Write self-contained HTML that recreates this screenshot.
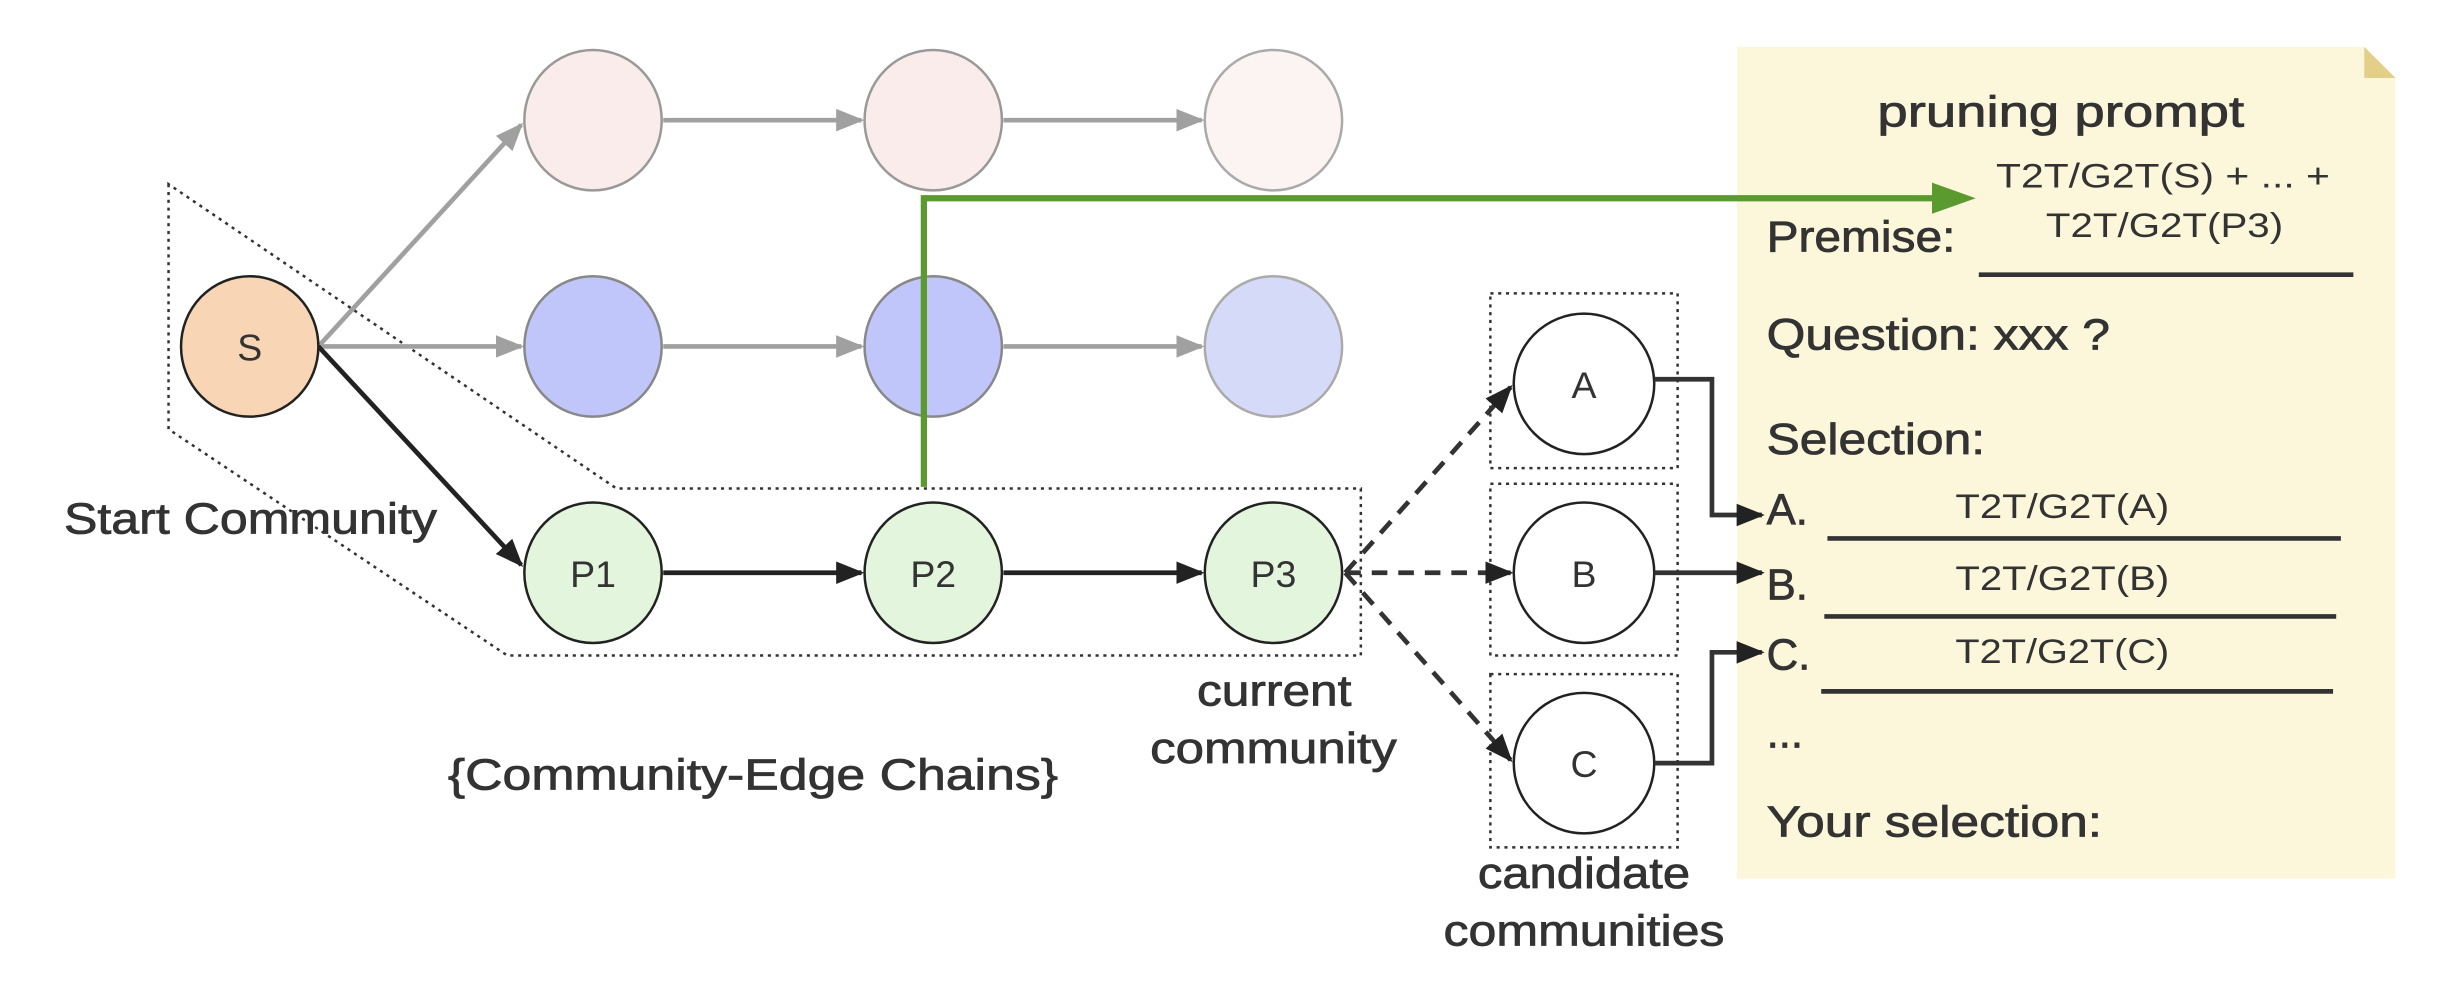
<!DOCTYPE html>
<html><head><meta charset="utf-8"><style>
html,body{margin:0;padding:0;background:#fff;}
svg{display:block;}
text{font-family:"Liberation Sans","DejaVu Sans",sans-serif;fill:#333;}
.b{stroke:#333;stroke-width:0.5;}
</style></head><body>
<svg width="2447" height="981" viewBox="0 0 1568 628.6" xmlns="http://www.w3.org/2000/svg">
<defs>
<marker id="ag" viewBox="0 0 10 10" refX="9" refY="5" markerWidth="6" markerHeight="6" orient="auto" markerUnits="strokeWidth"><path d="M0,1 L10,5 L0,9 Z" fill="#a0a0a0"/></marker>
<marker id="ab" viewBox="0 0 10 10" refX="9" refY="5" markerWidth="6" markerHeight="6" orient="auto" markerUnits="strokeWidth"><path d="M0,1 L10,5 L0,9 Z" fill="#222"/></marker>
</defs>
<path d="M1113,30 L1515,30 L1535,50 L1535,563 L1113,563 Z" fill="#fcf7da"/>
<path d="M1515,30 L1535,50 L1515,50 Z" fill="#e4cf8a"/>
<path d="M108,118 L108,275 L325,420 L872,420 L872,313 L395,313 Z" fill="none" stroke="#333" stroke-width="1.6" stroke-dasharray="2,3"/>
<rect x="955" y="188" width="120" height="112" fill="none" stroke="#333" stroke-width="1.6" stroke-dasharray="2,3"/>
<rect x="955" y="310" width="120" height="110" fill="none" stroke="#333" stroke-width="1.6" stroke-dasharray="2,3"/>
<rect x="955" y="432" width="120" height="111" fill="none" stroke="#333" stroke-width="1.6" stroke-dasharray="2,3"/>
<g stroke="#a0a0a0" stroke-width="3" fill="none" marker-end="url(#ag)">
<line x1="204" y1="222" x2="334" y2="80"/>
<line x1="204" y1="222" x2="334" y2="222"/>
<line x1="425" y1="77" x2="552" y2="77"/>
<line x1="643" y1="77" x2="770" y2="77"/>
<line x1="425" y1="222" x2="552" y2="222"/>
<line x1="643" y1="222" x2="770" y2="222"/>
</g>
<g stroke="#222" stroke-width="3" fill="none" marker-end="url(#ab)">
<line x1="204" y1="222" x2="334" y2="362"/>
<line x1="425" y1="367" x2="552" y2="367"/>
<line x1="643" y1="367" x2="770" y2="367"/>
</g>
<g stroke-width="1.6">
<ellipse cx="380" cy="77" rx="44" ry="45" fill="#fbecec" stroke="#999"/>
<ellipse cx="598" cy="77" rx="44" ry="45" fill="#fbecec" stroke="#999"/>
<ellipse cx="816" cy="77" rx="44" ry="45" fill="#fcf3f3" stroke="#aaa"/>
<ellipse cx="380" cy="222" rx="44" ry="45" fill="#c0c6fa" stroke="#888"/>
<ellipse cx="598" cy="222" rx="44" ry="45" fill="#c0c6fa" stroke="#888"/>
<ellipse cx="816" cy="222" rx="44" ry="45" fill="#d6daf9" stroke="#aaa"/>
<ellipse cx="160" cy="222" rx="44" ry="45" fill="#f8d5b5" stroke="#222"/>
<ellipse cx="380" cy="367" rx="44" ry="45" fill="#e3f5dc" stroke="#222"/>
<ellipse cx="598" cy="367" rx="44" ry="45" fill="#e3f5dc" stroke="#222"/>
<ellipse cx="816" cy="367" rx="44" ry="45" fill="#e3f5dc" stroke="#222"/>
<ellipse cx="1015" cy="246" rx="45" ry="45" fill="#fff" stroke="#222"/>
<ellipse cx="1015" cy="367" rx="45" ry="45" fill="#fff" stroke="#222"/>
<ellipse cx="1015" cy="489" rx="45" ry="45" fill="#fff" stroke="#222"/>
</g>
<path d="M592,312 L592,127 L1242,127" fill="none" stroke="#5a9a2f" stroke-width="4"/>
<path d="M1238,117 L1266,127 L1238,137 Z" fill="#5a9a2f"/>
<g stroke="#333" stroke-width="3" fill="none" stroke-dasharray="10,7" marker-end="url(#ab)">
<line x1="862" y1="367" x2="968" y2="248"/>
<line x1="862" y1="367" x2="968" y2="367"/>
<line x1="862" y1="367" x2="968" y2="487"/>
</g>
<g stroke="#333" stroke-width="3" fill="none" marker-end="url(#ab)">
<path d="M1060,243 L1097,243 L1097,330 L1129,330"/>
<line x1="1060" y1="367" x2="1129" y2="367"/>
<path d="M1060,489 L1097,489 L1097,418 L1129,418"/>
</g>
<g font-size="24" text-anchor="middle">
<text x="160" y="231">S</text>
<text x="380" y="376">P1</text>
<text x="598" y="376">P2</text>
<text x="816" y="376">P3</text>
<text x="1015" y="255">A</text>
<text x="1015" y="376">B</text>
<text x="1015" y="498">C</text>
</g>
<g font-size="28" class="b">
<text x="41" y="342" textLength="239" lengthAdjust="spacingAndGlyphs">Start Community</text>
<text x="287" y="506" textLength="391" lengthAdjust="spacingAndGlyphs">{Community-Edge Chains}</text>
<text x="767" y="452" textLength="99" lengthAdjust="spacingAndGlyphs">current</text>
<text x="737" y="489" textLength="158" lengthAdjust="spacingAndGlyphs">community</text>
<text x="947" y="569" textLength="136" lengthAdjust="spacingAndGlyphs">candidate</text>
<text x="925" y="606" textLength="180" lengthAdjust="spacingAndGlyphs">communities</text>
<text x="1203" y="81" textLength="235" lengthAdjust="spacingAndGlyphs">pruning prompt</text>
<text x="1132" y="161" textLength="121" lengthAdjust="spacingAndGlyphs">Premise:</text>
<text x="1132" y="224" textLength="220" lengthAdjust="spacingAndGlyphs">Question: xxx ?</text>
<text x="1132" y="291" textLength="140" lengthAdjust="spacingAndGlyphs">Selection:</text>
<text x="1132" y="336">A.</text>
<text x="1132" y="384">B.</text>
<text x="1132" y="429">C.</text>
<text x="1132" y="479">...</text>
<text x="1132" y="536" textLength="215" lengthAdjust="spacingAndGlyphs">Your selection:</text>
</g>
<g font-size="22">
<text x="1279" y="120" textLength="214" lengthAdjust="spacingAndGlyphs">T2T/G2T(S) + ... +</text>
<text x="1311" y="152" textLength="152" lengthAdjust="spacingAndGlyphs">T2T/G2T(P3)</text>
<text x="1253" y="332" textLength="137" lengthAdjust="spacingAndGlyphs">T2T/G2T(A)</text>
<text x="1253" y="378" textLength="137" lengthAdjust="spacingAndGlyphs">T2T/G2T(B)</text>
<text x="1253" y="425" textLength="137" lengthAdjust="spacingAndGlyphs">T2T/G2T(C)</text>
</g>
<g stroke="#333" stroke-width="3">
<line x1="1268" y1="176" x2="1508" y2="176"/>
<line x1="1171" y1="345" x2="1500" y2="345"/>
<line x1="1169" y1="395" x2="1497" y2="395"/>
<line x1="1167" y1="443" x2="1495" y2="443"/>
</g>
</svg>
</body></html>
